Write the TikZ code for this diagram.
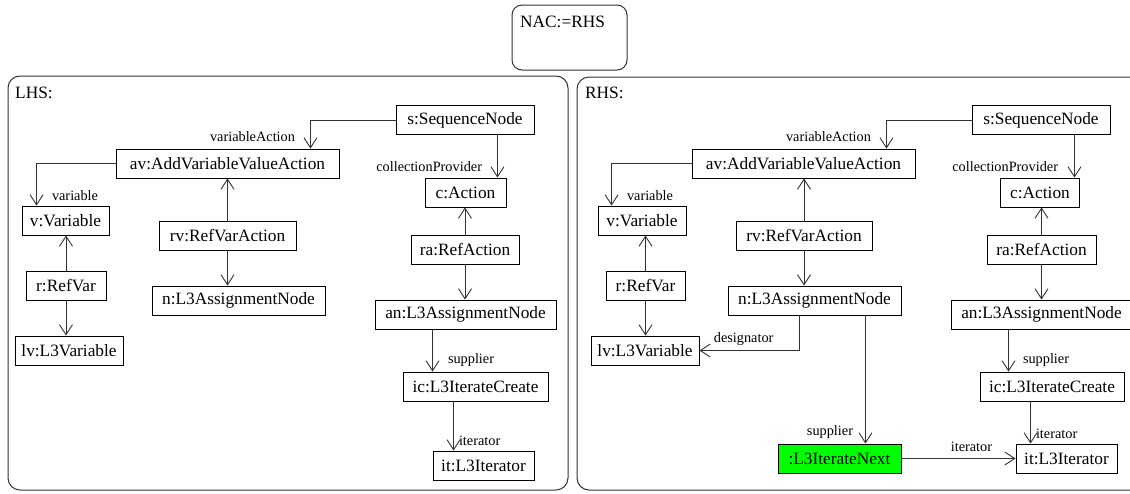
\documentclass[tikz,border=0pt]{standalone}
\usepackage{fontspec}
\setmainfont{Liberation Serif}
\usetikzlibrary{arrows.meta}
\definecolor{newgreen}{RGB}{0,255,0}

\begin{document}
\begin{tikzpicture}[x=1pt, y=-1pt,
  obj/.style={draw, line width=0.9pt, fill=white, minimum height=29, inner sep=2pt, font=\fontsize{17.3}{20}\selectfont},
  role/.style={inner sep=0pt, font=\fontsize{14.3}{16}\selectfont},
  assoc/.style={-{Straight Barb[length=10pt, width=13pt]}, draw=black!80, line width=0.9pt},
  pane/.style={draw=black!80, line width=1pt, rounded corners=12pt},
  heading/.style={anchor=west, inner sep=0pt, font=\fontsize{17.3}{20}\selectfont}]
\useasboundingbox (0,0) rectangle (1130,493);
\clip (0,0) rectangle (1130,493);
\fill[white] (0,0) rectangle (1130,493);

% negative application condition
\draw[pane, rounded corners=10pt] (512,5) rectangle (627,70);
\node[heading] (nac) at (520,22) {NAC:=RHS};

% left hand side
\draw[pane] (8,76) rectangle (568,490);
\node[heading] (lhs) at (15,93) {LHS:};
\node[obj, minimum width=138] (s1) at (465,120) {s:SequenceNode};
\node[obj, minimum width=223] (av1) at (227.5,163.5) {av:AddVariableValueAction};
\node[obj, minimum width=81] (c1) at (465.5,192.5) {c:Action};
\node[obj, minimum width=87] (v1) at (65.5,220.5) {v:Variable};
\node[obj, minimum width=137] (rv1) at (227.5,235.5) {rv:RefVarAction};
\node[obj, minimum width=108] (ra1) at (465,249.5) {ra:RefAction};
\node[obj, minimum width=80] (r1) at (66,286) {r:RefVar};
\node[obj, minimum width=173] (n1) at (238.5,300.5) {n:L3AssignmentNode};
\node[obj, minimum width=181] (an1) at (465.5,314.5) {an:L3AssignmentNode};
\node[obj, minimum width=108] (lv1) at (69,350.5) {lv:L3Variable};
\node[obj, minimum width=145] (ic1) at (475.5,386.5) {ic:L3IterateCreate};
\node[obj, minimum width=101] (it1) at (483.5,465.5) {it:L3Iterator};

\draw[assoc] (s1.west) -| ([xshift=-29]av1.north east) node[role, anchor=east, xshift=-15, yshift=12] {variableAction};
\draw[assoc] (av1.west) -| ([xshift=15]v1.north west) node[role, anchor=west, xshift=15, yshift=10] {variable};
\draw[assoc] ([xshift=-37]s1.south east) -- ([xshift=-37]s1.south east |- c1.north) node[role, anchor=east, xshift=-15, yshift=11] {collectionProvider};
\draw[assoc] (ra1.north) -- (ra1.north |- c1.south);
\draw[assoc] (ra1.south) -- (ra1.south |- an1.north);
\draw[assoc] (rv1.north) -- (rv1.north |- av1.south);
\draw[assoc] (rv1.south) -- (rv1.south |- n1.north);
\draw[assoc] (r1.north) -- (r1.north |- v1.south);
\draw[assoc] (r1.south) -- (r1.south |- lv1.north);
\draw[assoc] ([xshift=58]an1.south west) -- ([xshift=58]an1.south west |- ic1.north) node[role, anchor=west, xshift=15, yshift=11] {supplier};
\draw[assoc] ([xshift=51]ic1.south west) -- ([xshift=51]ic1.south west |- it1.north) node[role, anchor=west, xshift=5, yshift=10] {iterator};

% right hand side
\draw[pane] (577,77) rectangle (1145,490);
\node[heading] (rhs) at (585,93) {RHS:};
\node[obj, minimum width=138] (s2) at (1041,120) {s:SequenceNode};
\node[obj, minimum width=223] (av2) at (803.5,163.5) {av:AddVariableValueAction};
\node[obj, minimum width=79] (c2) at (1040,192.5) {c:Action};
\node[obj, minimum width=88] (v2) at (642,220.5) {v:Variable};
\node[obj, minimum width=136] (rv2) at (804,235.5) {rv:RefVarAction};
\node[obj, minimum width=109] (ra2) at (1041.5,249.5) {ra:RefAction};
\node[obj, minimum width=79] (r2) at (645.5,286) {r:RefVar};
\node[obj, minimum width=173] (n2) at (814.5,300.5) {n:L3AssignmentNode};
\node[obj, minimum width=181] (an2) at (1041.5,314.5) {an:L3AssignmentNode};
\node[obj, minimum width=108] (lv2) at (645,350.5) {lv:L3Variable};
\node[obj, minimum width=144] (ic2) at (1052,386.5) {ic:L3IterateCreate};
\node[obj, minimum width=123, fill=newgreen] (next) at (839.5,458.5) {:L3IterateNext};
\node[obj, minimum width=101] (it2) at (1066.5,458.5) {it:L3Iterator};

\draw[assoc] (s2.west) -| ([xshift=-29]av2.north east) node[role, anchor=east, xshift=-15, yshift=12] {variableAction};
\draw[assoc] (av2.west) -| ([xshift=14]v2.north west) node[role, anchor=west, xshift=15, yshift=10] {variable};
\draw[assoc] ([xshift=-36]s2.south east) -- ([xshift=-36]s2.south east |- c2.north) node[role, anchor=east, xshift=-16, yshift=11] {collectionProvider};
\draw[assoc] (ra2.north) -- (ra2.north |- c2.south);
\draw[assoc] (ra2.south) -- (ra2.south |- an2.north);
\draw[assoc] (rv2.north) -- (rv2.north |- av2.south);
\draw[assoc] (rv2.south) -- (rv2.south |- n2.north);
\draw[assoc] (r2.north) -- (r2.north |- v2.south);
\draw[assoc] (r2.south) -- (r2.south |- lv2.north);
\draw[assoc] ([xshift=72]n2.south west) |- (lv2.east) node[role, anchor=west, xshift=14, yshift=11] {designator};
\draw[assoc] ([xshift=-36]n2.south east) -- ([xshift=-36]n2.south east |- next.north) node[role, anchor=east, xshift=-12, yshift=11] {supplier};
\draw[assoc] (next.east) -- (it2.west) node[role, anchor=east, xshift=-23, yshift=11.5] {iterator};
\draw[assoc] ([xshift=58]an2.south west) -- ([xshift=58]an2.south west |- ic2.north) node[role, anchor=west, xshift=14, yshift=11] {supplier};
\draw[assoc] ([xshift=51]ic2.south west) -- ([xshift=51]ic2.south west |- it2.north) node[role, anchor=west, xshift=5, yshift=10] {iterator};
\end{tikzpicture}
\end{document}
